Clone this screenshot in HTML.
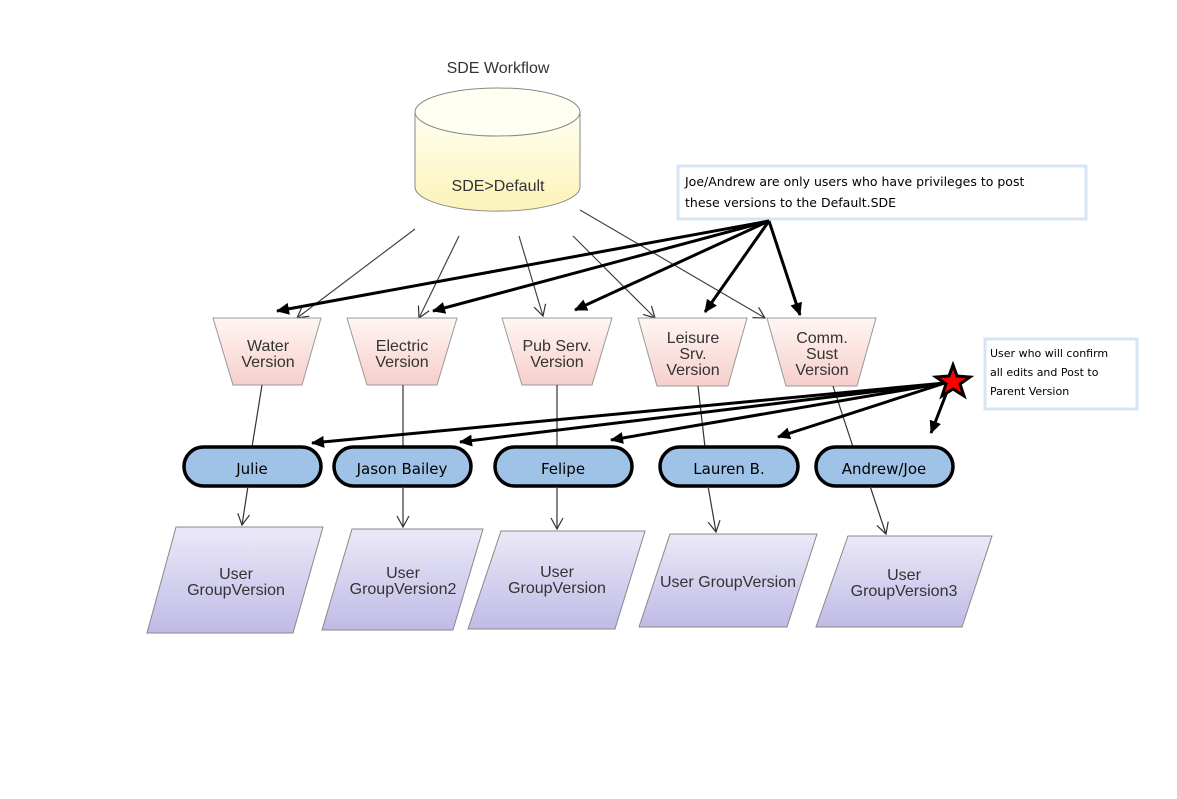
<!DOCTYPE html>
<html><head><meta charset="utf-8"><style>
body{margin:0;background:#fff;width:1177px;height:799px;overflow:hidden}
svg{display:block}
.t{font-family:"Liberation Sans",Arial,sans-serif;font-size:16px;fill:#333;text-anchor:middle}
.p{font-family:"DejaVu Sans","Liberation Sans",sans-serif;font-size:15px;fill:#000;text-anchor:middle}
.n{font-family:"DejaVu Sans","Liberation Sans",sans-serif;font-size:12.5px;fill:#000}
</style></head><body>
<svg width="1177" height="799" viewBox="0 0 1177 799">
<defs>
<linearGradient id="cy" x1="0" y1="0" x2="0" y2="1"><stop offset="0" stop-color="#fffff0"/><stop offset="1" stop-color="#fbf3b8"/></linearGradient>
<linearGradient id="tr" x1="0" y1="0" x2="0" y2="1"><stop offset="0" stop-color="#fff6f4"/><stop offset="1" stop-color="#f6cfcb"/></linearGradient>
<linearGradient id="pg" x1="0" y1="0" x2="0" y2="1"><stop offset="0" stop-color="#ebe9f8"/><stop offset="1" stop-color="#bfbbe6"/></linearGradient>
<marker id="o" markerWidth="14" markerHeight="14" refX="12" refY="7" orient="auto" markerUnits="userSpaceOnUse"><path d="M1,1 L12,7 L1,13" fill="none" stroke="#333" stroke-width="1.2"/></marker>
<marker id="f" markerWidth="14" markerHeight="12" refX="12" refY="6" orient="auto" markerUnits="userSpaceOnUse"><path d="M0,0 L13,6 L0,12 Z" fill="#000"/></marker>
</defs>
<text class="t" x="498" y="73">SDE Workflow</text>
<path d="M415,112 L415,187 A82,24 0 0 0 580,187 L580,112" fill="url(#cy)" stroke="#888"/>
<ellipse cx="497.5" cy="112" rx="82.5" ry="24" fill="#fffff2" stroke="#888"/>
<text class="t" x="498" y="191">SDE&gt;Default</text>
<rect x="678" y="166" width="408" height="53" fill="#fff" stroke="#d6e4f4" stroke-width="3"/>
<text class="n" x="685" y="186">Joe/Andrew are only users who have privileges to post</text>
<text class="n" x="685" y="207">these versions to the Default.SDE</text>
<rect x="985" y="339" width="152" height="70" fill="#fff" stroke="#d6e4f4" stroke-width="3"/>
<text class="n" x="990" y="357" style="font-size:11px">User who will confirm</text>
<text class="n" x="990" y="376" style="font-size:11px">all edits and Post to</text>
<text class="n" x="990" y="395" style="font-size:11px">Parent Version</text>
<g stroke="#444" stroke-width="1.2" marker-end="url(#o)">
<line x1="415" y1="229" x2="297" y2="318"/>
<line x1="459" y1="236" x2="419" y2="318"/>
<line x1="519" y1="236" x2="543" y2="316"/>
<line x1="573" y1="236" x2="655" y2="318"/>
<line x1="580" y1="210" x2="765" y2="318"/>
</g>
<g stroke="#999" fill="url(#tr)">
<polygon points="213,318 321,318 302,385 233,385"/>
<polygon points="347,318 457,318 437,385 367,385"/>
<polygon points="502,318 612,318 592,385 522,385"/>
<polygon points="638,318 747,318 728,386 657,386"/>
<polygon points="767,318 876,318 857,386 786,386"/>
</g>
<text class="t" x="268" y="351">Water</text><text class="t" x="268" y="367">Version</text>
<text class="t" x="402" y="351">Electric</text><text class="t" x="402" y="367">Version</text>
<text class="t" x="557" y="351">Pub Serv.</text><text class="t" x="557" y="367">Version</text>
<text class="t" x="693" y="343">Leisure</text><text class="t" x="693" y="359">Srv.</text><text class="t" x="693" y="375">Version</text>
<text class="t" x="822" y="343">Comm.</text><text class="t" x="822" y="359">Sust</text><text class="t" x="822" y="375">Version</text>
<g stroke="#333" stroke-width="1.2">
<line x1="262" y1="385" x2="252" y2="447"/>
<line x1="403" y1="385" x2="403" y2="447"/>
<line x1="557" y1="385" x2="557" y2="447"/>
<line x1="698" y1="386" x2="705" y2="447"/>
<line x1="833" y1="386" x2="853" y2="447"/>
</g>
<g stroke="#000" stroke-width="3" marker-end="url(#f)">
<line x1="769" y1="221" x2="277" y2="311"/>
<line x1="769" y1="221" x2="433" y2="311"/>
<line x1="769" y1="221" x2="575" y2="310"/>
<line x1="769" y1="221" x2="705" y2="312"/>
<line x1="769" y1="221" x2="800" y2="315"/>
</g>
<g fill="#9fc3e7" stroke="#000" stroke-width="3.5">
<rect x="184" y="447" width="137" height="39" rx="19.5"/>
<rect x="334" y="447" width="137" height="39" rx="19.5"/>
<rect x="495" y="447" width="137" height="39" rx="19.5"/>
<rect x="660" y="447" width="138" height="39" rx="19.5"/>
<rect x="816" y="447" width="137" height="39" rx="19.5"/>
</g>
<text class="p" x="252" y="474">Julie</text>
<text class="p" x="402" y="474">Jason Bailey</text>
<text class="p" x="563" y="474">Felipe</text>
<text class="p" x="729" y="474">Lauren B.</text>
<text class="p" x="884" y="474">Andrew/Joe</text>
<g stroke="#000" stroke-width="3" marker-end="url(#f)">
<line x1="945" y1="383" x2="312" y2="443"/>
<line x1="945" y1="383" x2="460" y2="442"/>
<line x1="945" y1="383" x2="611" y2="440"/>
<line x1="945" y1="383" x2="778" y2="437"/>
<line x1="950" y1="384" x2="931" y2="433"/>
</g>
<polygon points="953,365 957,376 970,377 960,384 964,396 953,389 942,396 946,384 936,377 949,376" fill="#f00" stroke="#000" stroke-width="3"/>
<g stroke="#333" stroke-width="1.2" marker-end="url(#o)">
<line x1="248" y1="486" x2="242" y2="525"/>
<line x1="403" y1="486" x2="403" y2="527"/>
<line x1="557" y1="486" x2="557" y2="529"/>
<line x1="708" y1="486" x2="716" y2="532"/>
<line x1="870" y1="486" x2="886" y2="534"/>
</g>
<g stroke="#888" fill="url(#pg)">
<polygon points="176,527 323,527 293,633 147,633"/>
<polygon points="352,529 483,529 453,630 322,630"/>
<polygon points="501,531 645,531 615,629 468,629"/>
<polygon points="670,534 817,534 787,627 639,627"/>
<polygon points="848,536 992,536 962,627 816,627"/>
</g>
<text class="t" x="236" y="579">User</text><text class="t" x="236" y="595">GroupVersion</text>
<text class="t" x="403" y="578">User</text><text class="t" x="403" y="594">GroupVersion2</text>
<text class="t" x="557" y="577">User</text><text class="t" x="557" y="593">GroupVersion</text>
<text class="t" x="728" y="587">User GroupVersion</text>
<text class="t" x="904" y="580">User</text><text class="t" x="904" y="596">GroupVersion3</text>
</svg>
</body></html>
